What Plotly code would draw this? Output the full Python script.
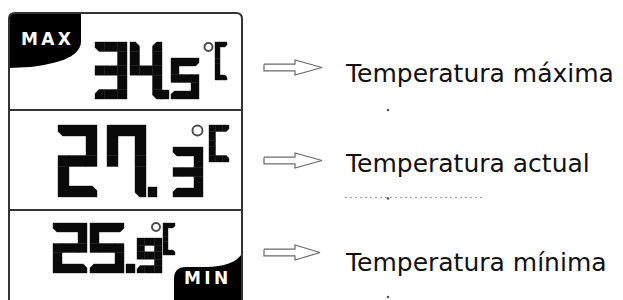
import plotly.graph_objects as go

# ---- data ----
readings = ["34.5", "27.3", "25.9"]
labels = ["Temperatura máxima", "Temperatura actual", "Temperatura mínima"]
unit = "°C"
tab_texts = ["M\u2009A\u2009X", "M\u2009I\u2009N"]

# ---- style / layout constants (pixel space) ----
W, H = 623, 300
SEGMENTS = {'0': 'abcdef', '1': 'bc', '2': 'abdeg', '3': 'abcdg', '4': 'bcfg',
            '5': 'acdfg', '6': 'acdefg', '7': 'abcf', '8': 'abcdefg', '9': 'abcdfg',
            'C': 'adef'}

ROWS = [
    dict(x=[95, 130], top=42, bw=32, bh=57, bt=9.5, dot=(161, 90, 8, 9),
         sx=171, stop=58, sw=28, sh=41, st=8, deg=(208.5, 47, 8),
         cx=215, cw=12, ch=38, ct=5, arrow=(67.5, 322), text_y=73.7),
    dict(x=[58, 107], top=125, bw=39, bh=72, bt=11, dot=(148, 187, 9, 10),
         sx=173, stop=147, sw=30, sh=50, st=9, deg=(197.5, 130.5, 10),
         cx=209, cw=20, ch=37, ct=6.5, arrow=(160.5, 322), text_y=163.9),
    dict(x=[53, 90], top=223, bw=34, bh=50, bt=9, dot=(126, 264, 9, 9),
         sx=137, stop=238, sw=25, sh=35, st=7.5, deg=(156, 227, 8),
         cx=163, cw=12, ch=32, ct=5, arrow=(252.5, 320), text_y=262.0),
]

CELL = {'a': (1, 0), 'f': (0, 1), 'b': (2, 1), 'g': (1, 2), 'e': (0, 3), 'c': (2, 3), 'd': (1, 4)}
CORNERS = [((0, 0), 'a', 'f'), ((2, 0), 'a', 'b'), ((0, 4), 'd', 'e'), ((2, 4), 'd', 'c'),
           ((0, 2), 'g', 'fe'), ((2, 2), 'g', 'bc')]


def digit_polys(x0, y0, w, h, t, segs):
    ym = y0 + h / 2
    XL = [x0, x0 + t, x0 + w - t, x0 + w]
    YR = [y0, y0 + t, ym - t / 2, ym + t / 2, y0 + h - t, y0 + h]

    def rect(ci, ri, chamfer=None):
        xa, xb, ya, yb = XL[ci], XL[ci + 1], YR[ri], YR[ri + 1]
        verts = [(xa, ya), (xb, ya), (xb, yb), (xa, yb)]
        if chamfer is None:
            return verts
        c = 0.42 * t
        out = []
        n = len(verts)
        for i, v in enumerate(verts):
            if v == chamfer:
                pv, nv = verts[i - 1], verts[(i + 1) % n]
                for q in (pv, nv):
                    dx, dy = q[0] - v[0], q[1] - v[1]
                    L = (dx * dx + dy * dy) ** 0.5
                    out.append((v[0] + dx / L * c, v[1] + dy / L * c))
                    if q is pv:
                        pass
            else:
                out.append(v)
        return out

    polys = [rect(*CELL[s]) for s in segs]
    for (ci, ri), hn, vn in CORNERS:
        has_h = hn in segs
        has_v = any(s in segs for s in vn)
        if not (has_h or has_v):
            continue
        chamfer = None
        if ri in (0, 4) and has_h != has_v:
            outer_x = XL[0] if ci == 0 else XL[3]
            inner_x = XL[1] if ci == 0 else XL[2]
            outer_y = YR[0] if ri == 0 else YR[5]
            inner_y = YR[1] if ri == 0 else YR[4]
            chamfer = (outer_x, inner_y) if has_h else (inner_x, outer_y)
        polys.append(rect(ci, ri, chamfer))
    return polys


def poly_path(pts):
    return "M " + " L ".join(f"{px:.2f} {py:.2f}" for px, py in pts) + " Z"


shapes = [
    # black tabs
    dict(type="path", path="M 9 68 L 30 67 C 55 64, 80 58, 81 42 L 81 13 L 15 13 Q 9 13 9 19 Z",
         fillcolor="black", line=dict(width=0), layer="below"),
    dict(type="path", path="M 242 254 C 236 262, 225 267, 205 267 L 186 267 Q 174 267 174 279 L 174 302 L 242 302 Z",
         fillcolor="black", line=dict(width=0), layer="below"),
    # frame
    dict(type="path", path="M 9 302 L 9 19 Q 9 13 15 13 L 236 13 Q 242 13 242 19 L 242 302",
         line=dict(color="#333333", width=2)),
    dict(type="line", x0=9, x1=242, y0=110, y1=110, line=dict(color="#333333", width=2)),
    dict(type="line", x0=9, x1=242, y0=210, y1=210, line=dict(color="#333333", width=2)),
]

seg_style = dict(fillcolor="#0a0a0a", line=dict(color="#0a0a0a", width=0.4))
deg_x, deg_y, deg_s = [], [], []
for reading, R in zip(readings, ROWS):
    whole, frac = reading.split(".")
    polys = []
    for ch, x0 in zip(whole, R['x']):
        polys += digit_polys(x0, R['top'], R['bw'], R['bh'], R['bt'], SEGMENTS[ch])
    dx, dy, dw, dh = R['dot']
    polys.append([(dx, dy), (dx + dw, dy), (dx + dw, dy + dh), (dx, dy + dh)])
    polys += digit_polys(R['sx'], R['stop'], R['sw'], R['sh'], R['st'], SEGMENTS[frac])
    polys += digit_polys(R['cx'], R['top'], R['cw'], R['ch'], R['ct'], SEGMENTS[unit[1]])
    for p in polys:
        shapes.append(dict(type="path", path=poly_path(p), **seg_style))
    deg_x.append(R['deg'][0])
    deg_y.append(R['deg'][1])
    deg_s.append(R['deg'][2])

fig = go.Figure()

# arrows
for R in ROWS:
    cy, tip = R['arrow']
    ax = [264, 295, 295, tip, 295, 295, 264, 264]
    ay = [cy - 3.3, cy - 3.3, cy - 7.5, cy, cy + 7.5, cy + 3.3, cy + 3.3, cy - 3.3]
    fig.add_trace(go.Scatter(x=ax, y=ay, mode="lines", fill="toself", fillcolor="white",
                             line=dict(color="#6a6a6a", width=1.2), hoverinfo="skip"))

# remnants of cut-off text lines
fig.add_trace(go.Scatter(x=[345, 483], y=[197.5, 197.5], mode="lines",
                         line=dict(color="#9a9a9a", width=1.2, dash="2px,3px"), hoverinfo="skip"))
fig.add_trace(go.Scatter(x=[388, 388, 388], y=[110, 297, 198.5], mode="markers",
                         marker=dict(color="#555555", size=2.5), hoverinfo="skip"))

# degree rings
fig.add_trace(go.Scatter(x=deg_x, y=deg_y, mode="markers",
                         marker=dict(symbol="circle-open", size=deg_s, color="black",
                                     line=dict(width=2, color="black")), hoverinfo="skip"))

annotations = []
for lab, R in zip(labels, ROWS):
    annotations.append(dict(x=343, y=R['text_y'], text=lab, showarrow=False,
                            xanchor="left", yanchor="middle",
                            font=dict(family="DejaVu Sans", size=25, color="#111111")))
annotations.append(dict(x=46, y=38.5, text=tab_texts[0], showarrow=False, xanchor="center",
                        yanchor="middle", font=dict(family="DejaVu Sans", size=17,
                                                    color="white", weight="bold")))
annotations.append(dict(x=206, y=277.5, text=tab_texts[1], showarrow=False, xanchor="center",
                        yanchor="middle", font=dict(family="DejaVu Sans", size=17,
                                                    color="white", weight="bold")))

fig.update_layout(
    width=W, height=H, margin=dict(l=0, r=0, t=0, b=0),
    paper_bgcolor="white", plot_bgcolor="white", showlegend=False,
    xaxis=dict(range=[0, W], visible=False, fixedrange=True),
    yaxis=dict(range=[H, 0], visible=False, fixedrange=True),
    shapes=shapes, annotations=annotations,
)

fig.write_html("out.html", config={"displayModeBar": False, "staticPlot": True},
               post_script="document.body.style.margin='0';document.body.style.overflow='hidden';")
